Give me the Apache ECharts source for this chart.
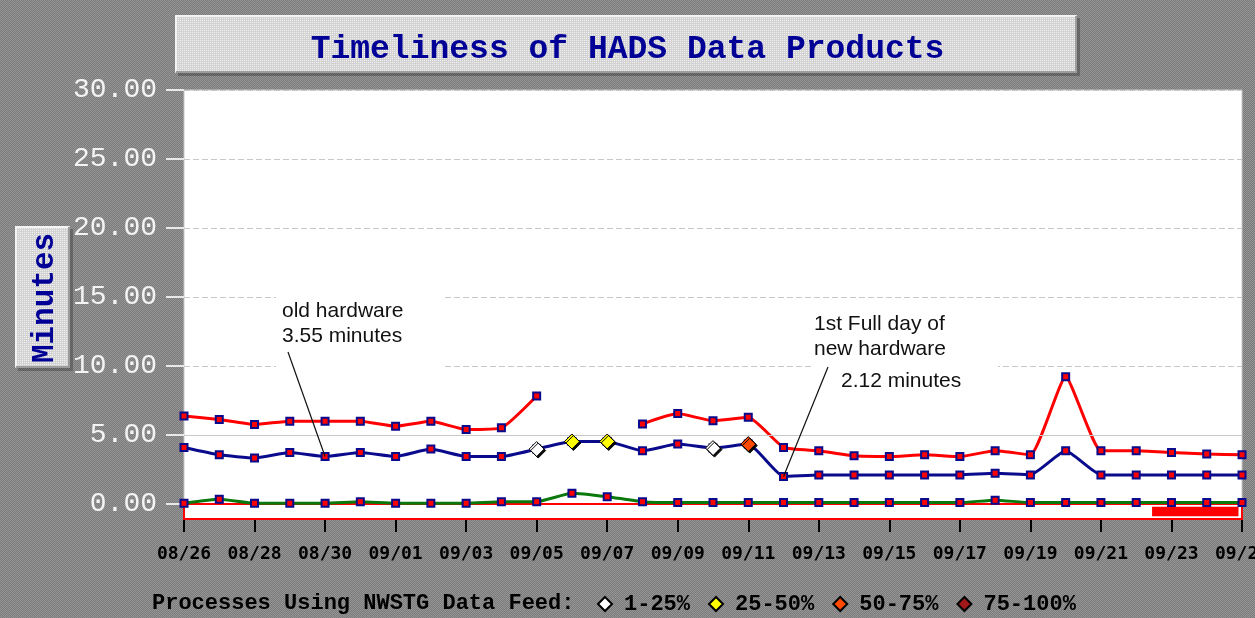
<!DOCTYPE html>
<html>
<head>
<meta charset="utf-8">
<script src="https://cdn.jsdelivr.net/npm/echarts@6/dist/echarts.min.js"></script>
<style>
html,body{margin:0;padding:0;}
#c{width:1255px;height:618px;background:repeating-conic-gradient(#7b7b7b 0% 25%, #959595 0% 50%) 0 0/2px 2px;}
</style>
</head>
<body>
<div id="c"></div>
<script>
// ---- data ----
const dates = ['08/26','08/27','08/28','08/29','08/30','08/31',
  '09/01','09/02','09/03','09/04','09/05','09/06','09/07','09/08','09/09','09/10',
  '09/11','09/12','09/13','09/14','09/15','09/16','09/17','09/18','09/19','09/20',
  '09/21','09/22','09/23','09/24','09/25'];
const maxMinutes = [6.38,6.12,5.76,6.00,6.00,6.00,5.64,6.00,5.40,5.52,7.83,null,null,5.80,6.55,6.04,
  6.28,4.10,3.86,3.49,3.44,3.57,3.44,3.86,3.57,9.22,3.86,3.86,3.73,3.62,3.57];
const avgMinutes = [4.10,3.57,3.33,3.73,3.44,3.73,3.44,3.98,3.44,3.44,3.98,4.53,4.53,3.86,4.34,4.05,
  4.34,1.99,2.11,2.11,2.11,2.11,2.11,2.23,2.11,3.86,2.11,2.11,2.11,2.11,2.11];
const minMinutes = [0.05,0.34,0.05,0.05,0.05,0.17,0.05,0.05,0.05,0.17,0.17,0.78,0.53,0.17,0.10,0.10,
  0.10,0.10,0.10,0.10,0.10,0.10,0.10,0.28,0.10,0.10,0.10,0.10,0.10,0.10,0.10];
const yTickLabels = ['0.00','5.00','10.00','15.00','20.00','25.00','30.00'];
const feedLegend = ['1-25%','25-50%','50-75%','75-100%'];
const feed1to25 = ['09/05','09/10'];
const feed25to50 = ['09/06','09/07'];
const feed50to75 = ['09/11'];
const feed75to100 = [];
const feedBar = [[27.45, 29.9]];
const annotOld = ['old hardware', '3.55 minutes'];
const annotNew = ['1st Full day of', 'new hardware', '2.12 minutes'];

// ---- helpers ----
function pat(base, dot){
  const cv=document.createElement('canvas');cv.width=2;cv.height=2;
  const g=cv.getContext('2d');g.fillStyle=base;g.fillRect(0,0,2,2);
  g.fillStyle=dot;g.fillRect(0,0,1,1);
  return {image:cv,repeat:'repeat'};
}
function bevelBox(x,y,w,h){
  return [
    {type:'rect',z:0,shape:{x:x+3,y:y+3,width:w,height:h},style:{fill:'rgba(40,40,40,0.35)'}},
    {type:'rect',z:1,shape:{x:x,y:y,width:w,height:h},style:{fill:pat('#d2d2d2','#f2f2f2')}},
    {type:'polyline',z:2,shape:{points:[[x+1,y+h-1],[x+1,y+1],[x+w-1,y+1]]},style:{stroke:'#f4f4f4',lineWidth:2,fill:null}},
    {type:'polyline',z:2,shape:{points:[[x+1,y+h-1],[x+w-1,y+h-1],[x+w-1,y+1]]},style:{stroke:'#9c9c9c',lineWidth:2,fill:null}}
  ];
}
const idx = d => dates.indexOf(d);
const feedPts = arr => arr.map(d => [d, avgMinutes[idx(d)]]);
const markerStyle = {color:'#ff0000', borderColor:'#0a0a8c', borderWidth:2};
const diamondStyle = c => ({color:c, opacity:1, borderColor:'#000', borderWidth:1,
  shadowColor:'rgba(0,0,0,0.95)', shadowOffsetX:1.5, shadowOffsetY:1.5, shadowBlur:0});
const feedColors = ['#ffffff','#ffff00','#ff4a00','#a01818'];
const annotFont = '21px "Liberation Sans"';

const chart = echarts.init(document.getElementById('c'));
chart.setOption({
  animation:false,
  backgroundColor:'transparent',
  title:{
    text:'Timeliness of HADS Data Products',
    left:'center', top:33, padding:0,
    textStyle:{fontFamily:'Liberation Mono', fontWeight:'bold', fontSize:33, color:'#000096'}
  },
  graphic:[
    ...bevelBox(175,15,902,58),
    ...bevelBox(15,226,55,142),
    {type:'text', z:3, x:45, y:298, rotation:Math.PI/2,
      style:{text:'Minutes', align:'center', verticalAlign:'middle',
        font:'bold 31px "Liberation Mono"', fill:'#000096'}},
    {type:'rect', z:1, shape:{x:276,y:291,width:166,height:78}, style:{fill:'#fff'}},
    {type:'rect', z:1, shape:{x:812,y:306,width:186,height:94}, style:{fill:'#fff'}},
    {type:'text', z:3, x:282, y:299,
      style:{text:annotOld.join('\n'), font:annotFont, lineHeight:25, fill:'#111', verticalAlign:'top'}},
    {type:'text', z:3, x:814, y:312,
      style:{text:annotNew.slice(0,2).join('\n'), font:annotFont, lineHeight:25, fill:'#111', verticalAlign:'top'}},
    {type:'text', z:3, x:841, y:369,
      style:{text:annotNew[2], font:annotFont, lineHeight:25, fill:'#111', verticalAlign:'top'}},
    {type:'text', z:3, x:152, y:603,
      style:{text:'Processes Using NWSTG Data Feed:', font:'bold 22px "Liberation Mono"', fill:'#000', verticalAlign:'middle'}}
  ],
  legend:{
    data:feedLegend, icon:'diamond', left:592, top:588,
    itemWidth:14, itemHeight:14, itemGap:18,
    textStyle:{fontFamily:'Liberation Mono', fontWeight:'bold', fontSize:22, color:'#000', padding:[0,0,0,7]}
  },
  grid:[
    {left:184, right:13, top:90, bottom:114, show:true, backgroundColor:'#fff', borderColor:'#c8c8c8', borderWidth:1,
      outerBoundsMode:'none', containLabel:false},
    {left:184, right:13, top:504, height:15, show:true, z:1, backgroundColor:'#fff', borderColor:'#ff0000', borderWidth:2,
      outerBoundsMode:'none', containLabel:false}
  ],
  xAxis:[
    {type:'category', gridIndex:0, data:dates, boundaryGap:false, show:false},
    {type:'value', gridIndex:1, min:0, max:dates.length-1, interval:2,
      axisLine:{show:false}, splitLine:{show:false},
      axisTick:{show:true, length:13, lineStyle:{color:'#000', width:2}},
      axisLabel:{margin:26, color:'#000', fontFamily:'DejaVu Sans Mono', fontWeight:'bold', fontSize:18,
        formatter:v => dates[v] || ''}}
  ],
  yAxis:[
    {type:'value', gridIndex:0, min:0, max:30, interval:5,
      axisLine:{show:false},
      axisTick:{show:true, inside:false, length:18, lineStyle:{color:'#e8e8e8', width:2}},
      axisLabel:{margin:27, color:'#f4f4f4', fontFamily:'Liberation Mono', fontSize:28,
        formatter:v => yTickLabels[Math.round(v/5)]},
      splitLine:{show:true, lineStyle:{color:'#c8c8c8', type:[6,3], width:1}}},
    {type:'value', gridIndex:1, min:0, max:1, show:false}
  ],
  series:[
    {type:'line', name:'Minimum', xAxisIndex:0, yAxisIndex:0, data:minMinutes, smooth:0.15,
      symbol:'rect', symbolSize:7, itemStyle:markerStyle,
      lineStyle:{color:'#0a780a', width:3},
      markLine:{silent:true, symbol:['none','none'], label:{show:false},
        lineStyle:{color:'#c8c8c8', type:'solid', width:1}, data:[{yAxis:5}]}},
    {type:'line', name:'Average', xAxisIndex:0, yAxisIndex:0, data:avgMinutes, smooth:0.15,
      symbol:'rect', symbolSize:7, itemStyle:markerStyle,
      lineStyle:{color:'#0a0a8c', width:3},
      markLine:{silent:true, symbol:['none','none'], label:{show:false},
        lineStyle:{color:'#111', type:'solid', width:1.2},
        data:[
          [{x:288, y:352}, {coord:['08/30', avgMinutes[idx('08/30')]]}],
          [{x:828, y:367}, {coord:['09/12', avgMinutes[idx('09/12')]]}]
        ]}},
    {type:'line', name:'Maximum', xAxisIndex:0, yAxisIndex:0, data:maxMinutes, smooth:0.15, connectNulls:false,
      symbol:'rect', symbolSize:7, itemStyle:markerStyle,
      lineStyle:{color:'#ff0000', width:3}},
    ...[feed1to25, feed25to50, feed50to75, feed75to100].map((arr,i) => ({
      type:'scatter', name:feedLegend[i], xAxisIndex:0, yAxisIndex:0, z:5,
      symbol:'diamond', symbolSize:15, data:feedPts(arr), itemStyle:diamondStyle(feedColors[i])
    })),
    {type:'custom', name:'feed', xAxisIndex:1, yAxisIndex:1, data:feedBar, silent:true, z:3,
      renderItem:(params, api) => {
        const a = api.coord([api.value(0), 0.82]);
        const b = api.coord([api.value(1), 0.18]);
        return {type:'rect', shape:{x:a[0], y:a[1], width:b[0]-a[0], height:b[1]-a[1]}, style:{fill:'#ff0000'}};
      }}
  ]
});
</script>
</body>
</html>
